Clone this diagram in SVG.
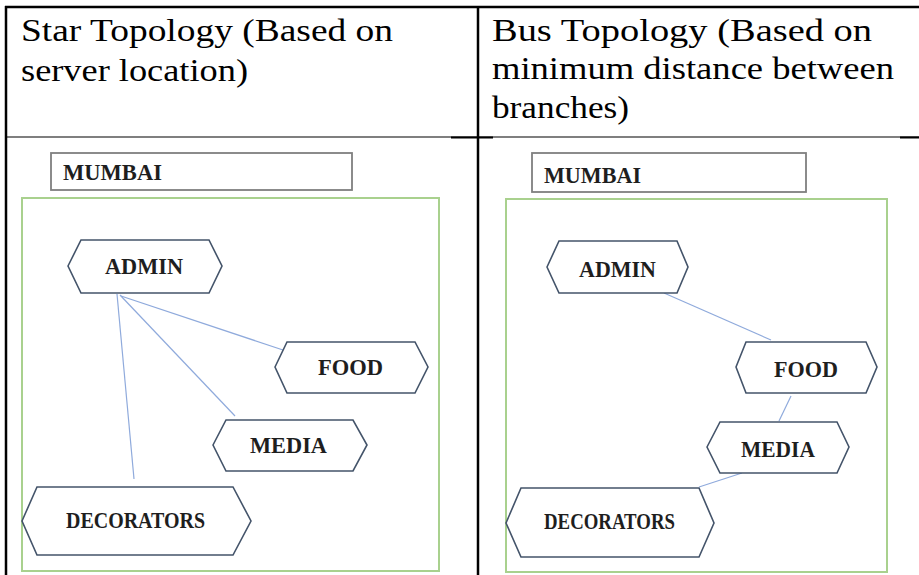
<svg xmlns="http://www.w3.org/2000/svg" width="919" height="575" viewBox="0 0 919 575">
<style>
.hdr{font-family:"Liberation Serif","Times New Roman",serif;font-size:32px;fill:#000}
.lbl{font-family:"Liberation Serif","Times New Roman",serif;font-weight:bold;font-size:23px;fill:#1e1e1e}
.hex{fill:#fff;stroke:#44546a;stroke-width:1.6}
.city{fill:#fff;stroke:#7f7f7f;stroke-width:1.8}
.area{fill:none;stroke:#a9d18e;stroke-width:2}
.conn{stroke:#8faadc;stroke-width:1.2;fill:none}
.rule{stroke:#000;fill:none}
</style>
<rect width="919" height="575" fill="#fff"/>
<g id="table">
<line class="rule" x1="5" y1="7" x2="919" y2="7" stroke-width="2.5"/>
<line class="rule" x1="6" y1="6" x2="6" y2="575" stroke-width="2.5"/>
<line class="rule" x1="478" y1="6" x2="478" y2="575" stroke-width="2.5"/>
<line class="rule" x1="5" y1="137" x2="919" y2="137" stroke-width="1.2"/>
<line class="rule" x1="451" y1="137.5" x2="493" y2="137.5" stroke-width="2"/>
<line class="rule" x1="900" y1="137.5" x2="919" y2="137.5" stroke-width="2"/>
<text class="hdr" x="21" y="41" textLength="372" lengthAdjust="spacingAndGlyphs">Star Topology (Based on</text>
<text class="hdr" x="21" y="81" textLength="227" lengthAdjust="spacingAndGlyphs">server location)</text>
<text class="hdr" x="492" y="41" textLength="380" lengthAdjust="spacingAndGlyphs">Bus Topology (Based on</text>
<text class="hdr" x="492" y="79" textLength="402" lengthAdjust="spacingAndGlyphs">minimum distance between</text>
<text class="hdr" x="492" y="118" textLength="137" lengthAdjust="spacingAndGlyphs">branches)</text>
</g>
<g id="connectors">
<line class="conn" x1="117" y1="294" x2="134" y2="479"/>
<line class="conn" x1="120" y1="295" x2="235" y2="416"/>
<line class="conn" x1="121" y1="296" x2="283" y2="350"/>
<line class="conn" x1="664" y1="293" x2="771" y2="340"/>
<line class="conn" x1="791" y1="396" x2="779" y2="421"/>
<line class="conn" x1="742" y1="473" x2="699" y2="487"/>
</g>
<g id="star-mumbai">
<rect class="city" x="51" y="153" width="301" height="37"/>
<text class="lbl" x="63" y="180" textLength="99" lengthAdjust="spacingAndGlyphs">MUMBAI</text>
</g>
<g id="star-area"><rect class="area" x="22" y="198" width="417" height="373"/></g>
<g id="star-admin">
<polygon class="hex" points="68,266 81,240 209,240 222,266 209,293 81,293"/>
<text class="lbl" x="105" y="274" textLength="78" lengthAdjust="spacingAndGlyphs">ADMIN</text>
</g>
<g id="star-food">
<polygon class="hex" points="275,367 287,342 415,342 428,367 415,393 287,393"/>
<text class="lbl" x="318" y="375" textLength="65" lengthAdjust="spacingAndGlyphs">FOOD</text>
</g>
<g id="star-media">
<polygon class="hex" points="213,445 226,420 353,420 367,445 353,471 226,471"/>
<text class="lbl" x="250" y="453" textLength="77" lengthAdjust="spacingAndGlyphs">MEDIA</text>
</g>
<g id="star-decorators">
<polygon class="hex" points="22,521 37,487 233,487 251,521 233,555 37,555"/>
<text class="lbl" x="66" y="528" textLength="139" lengthAdjust="spacingAndGlyphs">DECORATORS</text>
</g>
<g id="bus-mumbai">
<rect class="city" x="532" y="153" width="274" height="39"/>
<text class="lbl" x="544" y="183" textLength="97" lengthAdjust="spacingAndGlyphs">MUMBAI</text>
</g>
<g id="bus-area"><rect class="area" x="506" y="199" width="381" height="373"/></g>
<g id="bus-admin">
<polygon class="hex" points="547,267 559,241 677,241 688,267 677,293 559,293"/>
<text class="lbl" x="579" y="277" textLength="77" lengthAdjust="spacingAndGlyphs">ADMIN</text>
</g>
<g id="bus-food">
<polygon class="hex" points="736,367 746,342 866,342 877,367 866,393 746,393"/>
<text class="lbl" x="774" y="377" textLength="64" lengthAdjust="spacingAndGlyphs">FOOD</text>
</g>
<g id="bus-media">
<polygon class="hex" points="707,447 720,422 837,422 849,447 837,473 720,473"/>
<text class="lbl" x="741" y="457" textLength="74" lengthAdjust="spacingAndGlyphs">MEDIA</text>
</g>
<g id="bus-decorators">
<polygon class="hex" points="506,523 521,488 699,488 714,523 699,557 521,557"/>
<text class="lbl" x="544" y="529" textLength="131" lengthAdjust="spacingAndGlyphs">DECORATORS</text>
</g>
</svg>
